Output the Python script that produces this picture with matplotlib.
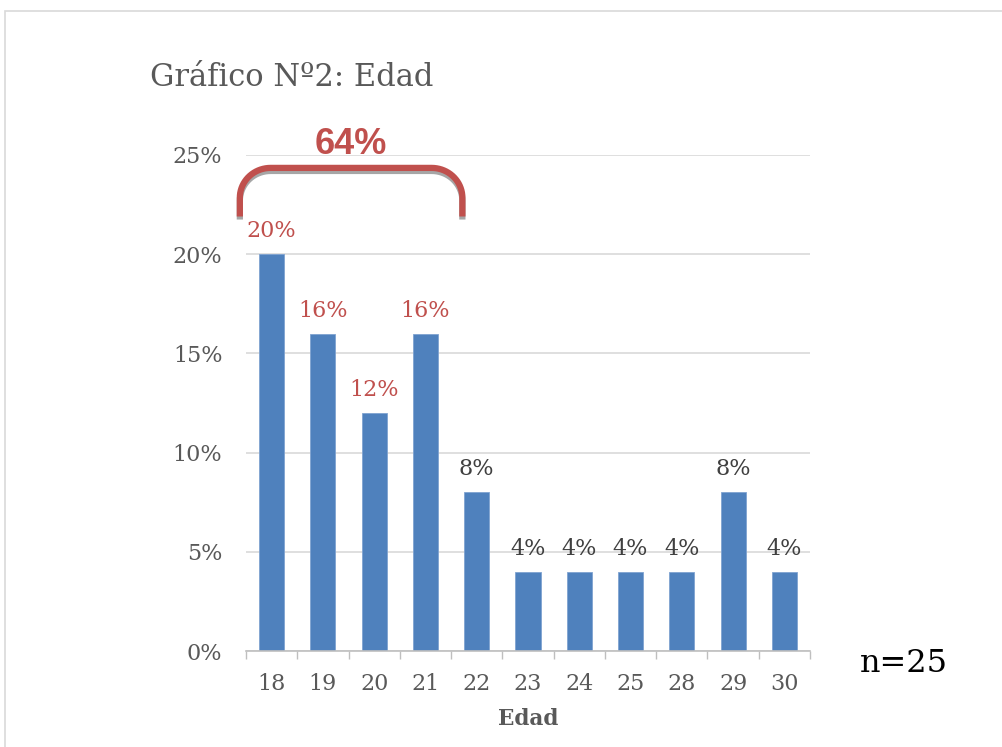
import numpy as np
import matplotlib.pyplot as plt
import matplotlib.patheffects as pe
from matplotlib.patches import Rectangle

# Data
edades = ["18", "19", "20", "21", "22", "23", "24", "25", "28", "29", "30"]
porcentajes = [20, 16, 12, 16, 8, 4, 4, 4, 4, 8, 4]
destacados = [True, True, True, True, False, False, False, False, False, False, False]
total_destacado = 64
n_total = 25

serif = ["DejaVu Serif"]
gris = "#595959"
rojo = "#C0504D"
azul = "#4F81BD"

fig = plt.figure(figsize=(10.02, 7.47), dpi=100)
ax = fig.add_axes([246 / 1002, 1 - 651 / 747, 564 / 1002, (651 - 155) / 747])

# Outer chart frame (runs off the right/bottom edge)
fig.patches.append(Rectangle((5 / 1002, -0.1), 1.2, 1.1 - 11 / 747,
                             transform=fig.transFigure, fill=False,
                             edgecolor="#D9D9D9", linewidth=1.2))

x = np.arange(len(edades))
ax.bar(x, porcentajes, width=0.49, color=azul, edgecolor="#7FA3D1",
       linewidth=0.6, zorder=3)

for xi, v, d in zip(x, porcentajes, destacados):
    ax.annotate(f"{v}%", (xi, v), xytext=(0, 8.5), textcoords="offset points",
                ha="center", va="bottom", fontsize=16, family=serif,
                color=rojo if d else "#404040")

ax.set_xlim(-0.5, len(edades) - 0.5)
ax.set_ylim(0, 25)
ax.set_yticks(np.arange(0, 26, 5))
ax.set_yticklabels([f"{t}%" for t in range(0, 26, 5)])
ax.set_xticks(x)
ax.set_xticklabels(edades)
ax.set_xticks(np.arange(-0.5, len(edades)), minor=True)
ax.tick_params(axis="x", which="major", length=0, pad=16, labelsize=16,
               labelcolor=gris)
ax.tick_params(axis="x", which="minor", length=6, color="#BFBFBF", width=1)
ax.tick_params(axis="y", length=0, pad=17, labelsize=16, labelcolor=gris)
for lab in ax.get_xticklabels() + ax.get_yticklabels():
    lab.set_family(serif)

ax.grid(axis="y", color="#D9D9D9", linewidth=1.2, zorder=0)
for s in ["top", "right", "left"]:
    ax.spines[s].set_visible(False)
ax.spines["bottom"].set_color("#BFBFBF")
ax.spines["bottom"].set_linewidth(1.2)
ax.spines["bottom"].set_zorder(4)

ax.set_xlabel("Edad", fontsize=15.5, fontweight="bold", color=gris,
              family=serif, labelpad=9)

# Bracket over the first four bars
x0, x1 = -0.62, 3.72
ytop, ybot = 24.35, 21.9
rx, ry = 0.6, 1.5
t = np.linspace(np.pi, np.pi / 2, 20)
left_x = x0 + rx + rx * np.cos(t)
left_y = ytop - ry + ry * np.sin(t)
t2 = np.linspace(np.pi / 2, 0, 20)
right_x = x1 - rx + rx * np.cos(t2)
right_y = ytop - ry + ry * np.sin(t2)
bx = np.r_[x0, left_x, right_x, x1]
by = np.r_[ybot, left_y, right_y, ybot]
ax.plot(bx, by, color=rojo, linewidth=4.5, solid_capstyle="butt",
        clip_on=False, zorder=5,
        path_effects=[pe.SimpleLineShadow(offset=(0, -2.2), shadow_color="#A6A6A6",
                                          alpha=1), pe.Normal()])
ax.text((x0 + x1) / 2, 25.55, f"{total_destacado}%", ha="center", va="center",
        fontsize=26, fontweight="bold", color=rojo, family=["Liberation Sans"])

fig.text(150 / 1002, 1 - 77 / 747, "Gráfico Nº2: Edad", fontsize=22,
         color=gris, family=serif, va="center", ha="left")
fig.text(860 / 1002, 1 - 663 / 747, f"n={n_total}", fontsize=23,
         color="black", family=serif, va="center", ha="left")

fig.savefig("out.png", dpi=100)
